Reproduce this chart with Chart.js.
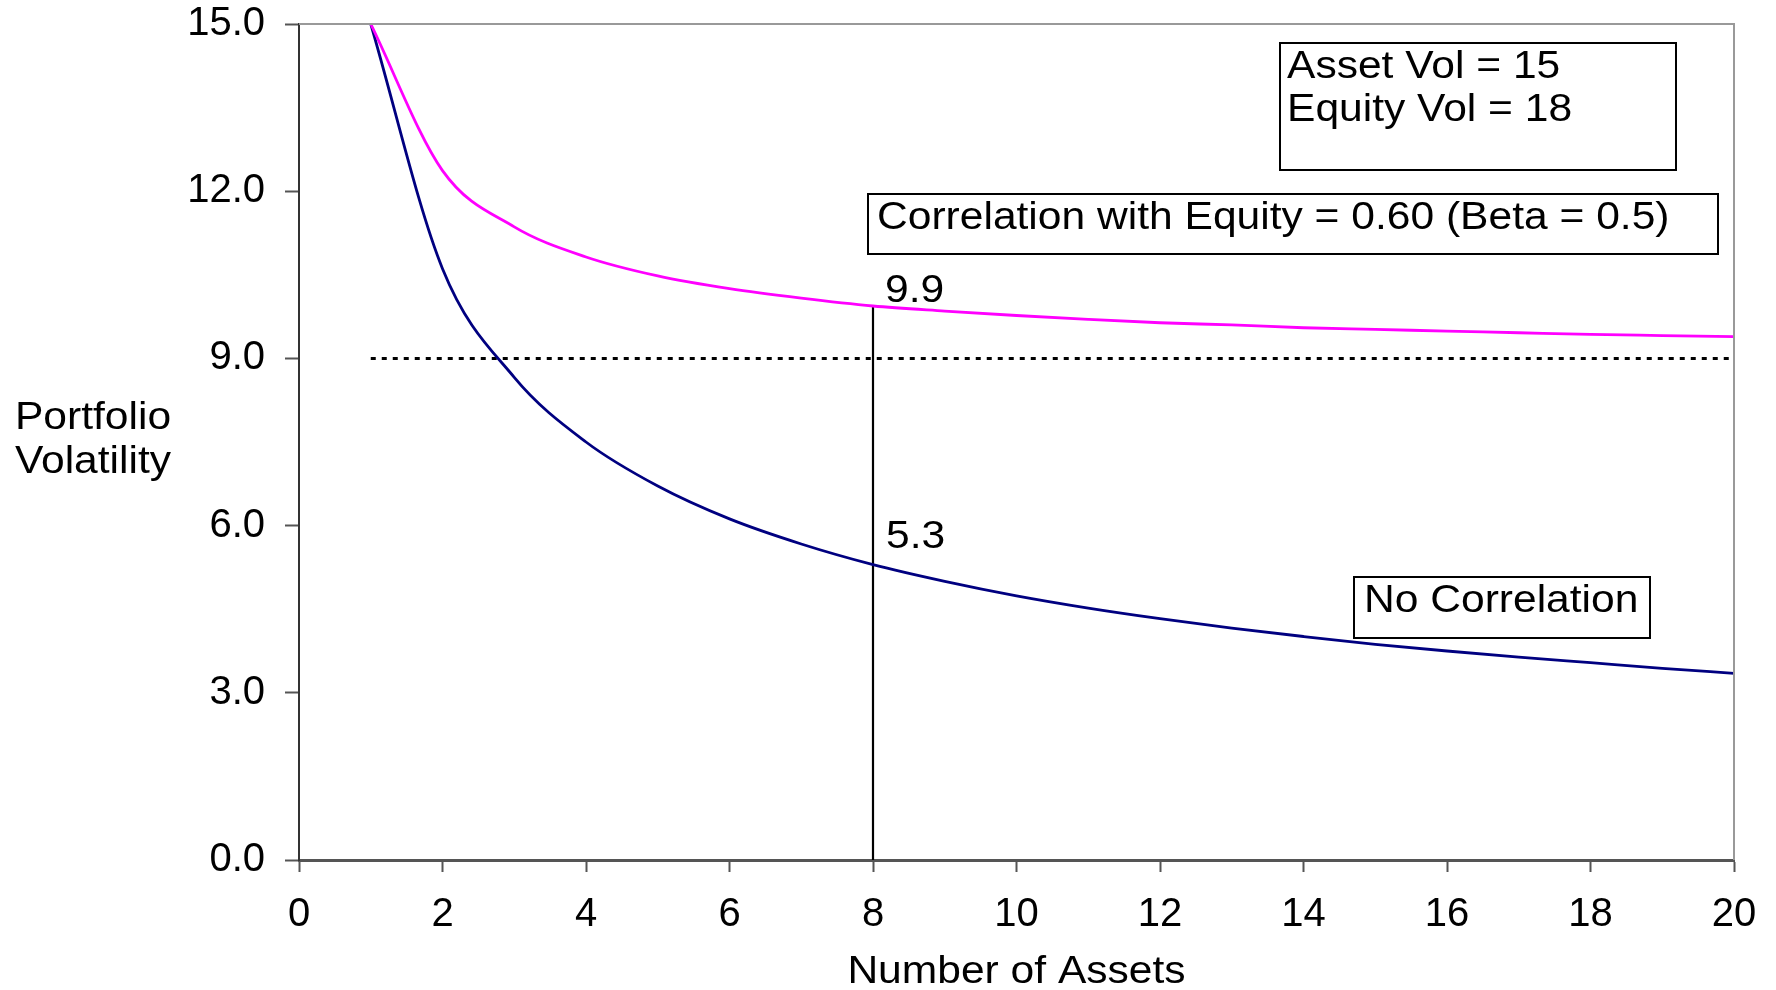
<!DOCTYPE html>
<html>
<head>
<meta charset="utf-8">
<title>Portfolio Volatility vs Number of Assets</title>
<script src="https://cdn.jsdelivr.net/npm/chart.js@4/dist/chart.umd.min.js"></script>
<style>
  html, body { margin: 0; padding: 0; background: #ffffff; }
  #wrap { width: 1776px; height: 990px; position: relative; }
</style>
</head>
<body>
<div id="wrap"><canvas id="chart" width="1776" height="990"></canvas></div>
<script>
// Number of assets held in the portfolio
const assets = [1, 2, 3, 4, 5, 6, 7, 8, 9, 10, 11, 12, 13, 14, 15, 16, 17, 18, 19, 20];
// Portfolio volatility when assets are uncorrelated
const noCorrelation = [15.00, 10.61, 8.66, 7.50, 6.71, 6.12, 5.67, 5.30, 5.00, 4.74,
                       4.52, 4.33, 4.16, 4.01, 3.87, 3.75, 3.64, 3.54, 3.44, 3.35];
// Portfolio volatility when each asset has 0.60 correlation with equity
const equityCorrelated = [15.00, 12.37, 11.36, 10.82, 10.48, 10.25, 10.08, 9.94, 9.85, 9.77,
                          9.70, 9.64, 9.60, 9.55, 9.52, 9.49, 9.46, 9.43, 9.41, 9.39];
// Systematic floor line
const floorX = [1, 20];
const floorY = [9.0, 9.0];
// Highlighted portfolio size
const markerAssets = 8;
// Axis ticks
const xTicks = [0, 2, 4, 6, 8, 10, 12, 14, 16, 18, 20];
const yTicks = [0, 3, 6, 9, 12, 15];

const FONT = "'Liberation Sans', Arial, 'DejaVu Sans', sans-serif";
const markerIndex = assets.indexOf(markerAssets);

const toPoints = (xs, ys) => xs.map((x, i) => ({ x: x, y: ys[i] }));

// Frame, annotation boxes and axis titles
const annotations = {
  id: 'annotations',
  afterDraw(chart) {
    const ctx = chart.ctx;
    const area = chart.chartArea;
    const xs = chart.scales.x;
    const ys = chart.scales.y;

    // top and right edges of the plot frame
    ctx.save();
    ctx.strokeStyle = '#999999';
    ctx.lineWidth = 2;
    ctx.beginPath();
    ctx.moveTo(area.left, area.top);
    ctx.lineTo(area.right, area.top);
    ctx.lineTo(area.right, area.bottom);
    ctx.stroke();
    ctx.restore();

    const text = (str, x, y, align, baseline) => {
      ctx.save();
      ctx.translate(x, y);
      ctx.scale(1.12, 1);
      ctx.textAlign = align || 'left';
      ctx.textBaseline = baseline || 'alphabetic';
      ctx.fillStyle = '#000000';
      ctx.font = '38px ' + FONT;
      ctx.fillText(str, 0, 0);
      ctx.restore();
    };
    const box = (x, y, w, h) => {
      ctx.save();
      ctx.strokeStyle = '#000000';
      ctx.lineWidth = 2;
      ctx.strokeRect(x, y, w, h);
      ctx.restore();
    };

    // value labels at the highlighted portfolio size
    const mx = xs.getPixelForValue(markerAssets);
    const vHigh = equityCorrelated[markerIndex];
    const vLow = noCorrelation[markerIndex];
    text(vHigh.toFixed(1), mx + 12, ys.getPixelForValue(vHigh) - 4);
    text(vLow.toFixed(1), mx + 13, ys.getPixelForValue(vLow) - 17);

    // parameter boxes
    box(1280, 43, 396, 127);
    text('Asset Vol = 15', 1287, 78);
    text('Equity Vol = 18', 1287, 121);

    box(868, 194, 850, 60);
    text('Correlation with Equity = 0.60 (Beta = 0.5)', 877, 229);

    box(1354, 577, 296, 61);
    text('No Correlation', 1364, 612);

    // axis titles
    text('Portfolio', 93, 419, 'center', 'middle');
    text('Volatility', 93, 463, 'center', 'middle');
    text('Number of Assets', (area.left + area.right) / 2, 973, 'center', 'middle');
  }
};

const clearScalePadding = (scale) => {
  scale.paddingTop = 0;
  scale.paddingBottom = 0;
  scale.paddingLeft = 0;
  scale.paddingRight = 0;
};

new Chart(document.getElementById('chart'), {
  type: 'line',
  data: {
    datasets: [
      {
        label: 'Correlation with Equity',
        data: toPoints(assets, equityCorrelated),
        borderColor: '#ff00ff',
        borderWidth: 2.8,
        pointRadius: 0,
        cubicInterpolationMode: 'monotone',
        fill: false
      },
      {
        label: 'No Correlation',
        data: toPoints(assets, noCorrelation),
        borderColor: '#000080',
        borderWidth: 2.8,
        pointRadius: 0,
        cubicInterpolationMode: 'monotone',
        fill: false
      },
      {
        label: 'Floor',
        data: toPoints(floorX, floorY),
        borderColor: '#000000',
        borderWidth: 3,
        borderDash: [5, 6],
        pointRadius: 0,
        tension: 0,
        fill: false
      },
      {
        label: 'Marker',
        data: [{ x: markerAssets, y: 0 }, { x: markerAssets, y: equityCorrelated[markerIndex] }],
        borderColor: '#000000',
        borderWidth: 2.2,
        pointRadius: 0,
        tension: 0,
        fill: false
      }
    ]
  },
  options: {
    responsive: false,
    animation: false,
    events: [],
    layout: { padding: { left: 0, top: 24, right: 42, bottom: 0 } },
    plugins: {
      legend: { display: false },
      tooltip: { enabled: false },
      title: { display: false }
    },
    scales: {
      x: {
        type: 'linear',
        min: 0,
        max: 20,
        afterBuildTicks: (scale) => { scale.ticks = xTicks.map(v => ({ value: v })); },
        afterFit: (scale) => { scale.height = 130; clearScalePadding(scale); },
        grid: { drawOnChartArea: false, drawTicks: true, tickLength: 12, tickColor: '#555555', tickWidth: 2 },
        border: { display: true, color: '#555555', width: 3 },
        ticks: {
          color: '#000000',
          padding: 19,
          maxRotation: 0,
          font: { family: FONT, size: 40 },
          callback: (v) => String(v)
        }
      },
      y: {
        type: 'linear',
        min: 0,
        max: 15,
        afterBuildTicks: (scale) => { scale.ticks = yTicks.map(v => ({ value: v })); },
        afterFit: (scale) => { scale.width = 299; clearScalePadding(scale); },
        grid: { drawOnChartArea: false, drawTicks: true, tickLength: 14, tickColor: '#555555', tickWidth: 2 },
        border: { display: true, color: '#333333', width: 2 },
        ticks: {
          color: '#000000',
          padding: 20,
          font: { family: FONT, size: 40 },
          callback: (v) => Number(v).toFixed(1)
        }
      }
    }
  },
  plugins: [annotations]
});
</script>
</body>
</html>
